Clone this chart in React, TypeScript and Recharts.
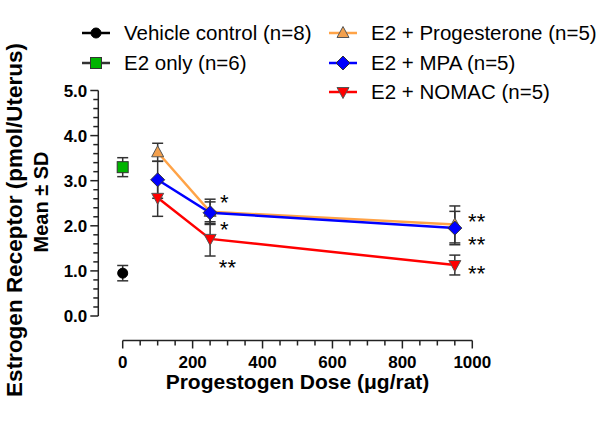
import { ComposedChart, ErrorBar, Legend, Line, ReferenceDot, XAxis, YAxis } from "recharts";

// doses in µg/rat, values in pmol/uterus (mean ± SD)
const controlDose = [0];
const vehicleMean = [0.95];
const vehicleSd = [0.17];
const e2OnlyMean = [3.3];
const e2OnlySd = [0.21];

const progestogenDoses = [100, 250, 950];
const progesteroneMean = [3.63, 2.31, 2.03];
const progesteroneSd = [0.2, 0.28, 0.41];
const mpaMean = [3.02, 2.29, 1.95];
const mpaSd = [0.41, 0.24, 0.37];
const nomacMean = [2.62, 1.71, 1.13];
const nomacSd = [0.41, 0.38, 0.22];

const xTicks = [0, 50, 100, 150, 200, 250, 300, 350, 400, 450, 500, 550, 600, 650, 700, 750, 800, 850, 900, 950, 1000];
const yTicks = [0, 0.2, 0.4, 0.6, 0.8, 1, 1.2, 1.4, 1.6, 1.8, 2, 2.2, 2.4, 2.6, 2.8, 3, 3.2, 3.4, 3.6, 3.8, 4, 4.2, 4.4, 4.6, 4.8, 5];

// significance marks, anchored at text baseline-left
const sigDoses = [278, 278, 275, 988, 988, 988];
const sigValues = [2.35, 1.75, 0.91, 1.93, 1.42, 0.77];
const sigTexts = ["*", "*", "**", "**", "**", "**"];

const toRows = (doses: number[], mean: number[], sd: number[]) =>
  doses.map((dose, i) => ({ dose, mean: mean[i], sd: sd[i] }));

const AXIS = "#222";
const FONT = "'Liberation Sans', Arial, sans-serif";
const X_GAP = 24.5;
const Y_GAP = 24.4;

type Shape = "circle" | "square" | "triUp" | "diamond" | "triDown";

const series = [
  { name: "Vehicle control (n=8)", data: toRows(controlDose, vehicleMean, vehicleSd), line: "#000", fill: "#000", edge: "#000", shape: "circle" as Shape },
  { name: "E2 only (n=6)", data: toRows(controlDose, e2OnlyMean, e2OnlySd), line: "#333", fill: "#00b400", edge: "#333", shape: "square" as Shape },
  { name: "E2 + Progesterone (n=5)", data: toRows(progestogenDoses, progesteroneMean, progesteroneSd), line: "#ffa347", fill: "#f2a04e", edge: "#555", shape: "triUp" as Shape },
  { name: "E2 + MPA (n=5)", data: toRows(progestogenDoses, mpaMean, mpaSd), line: "#0000ff", fill: "#0000ff", edge: "#333", shape: "diamond" as Shape },
  { name: "E2 + NOMAC (n=5)", data: toRows(progestogenDoses, nomacMean, nomacSd), line: "#ff0000", fill: "#ff0000", edge: "#555", shape: "triDown" as Shape },
];

function Marker({ shape, cx, cy, fill, edge }: { shape: Shape; cx: number; cy: number; fill: string; edge: string }) {
  if (shape === "circle") return <circle cx={cx} cy={cy} r={5} fill={fill} stroke={edge} />;
  if (shape === "square") return <rect x={cx - 5.5} y={cy - 5.5} width={11} height={11} fill={fill} stroke={edge} strokeWidth={1} />;
  if (shape === "triUp")
    return <polygon points={`${cx},${cy - 6.5} ${cx + 6},${cy + 4.5} ${cx - 6},${cy + 4.5}`} fill={fill} stroke={edge} strokeWidth={1} />;
  if (shape === "triDown")
    return <polygon points={`${cx - 6},${cy - 4.5} ${cx + 6},${cy - 4.5} ${cx},${cy + 6.5}`} fill={fill} stroke={edge} strokeWidth={1} />;
  return <polygon points={`${cx},${cy - 7} ${cx + 7},${cy} ${cx},${cy + 7} ${cx - 7},${cy}`} fill={fill} stroke={edge} strokeWidth={1} />;
}

function XTick({ x, y, payload }: any) {
  const v = payload.value;
  const major = v % 200 === 0;
  const ay = y + X_GAP;
  return (
    <g>
      <line x1={x} x2={x} y1={ay} y2={ay + (major ? 8 : 5)} stroke={AXIS} strokeWidth={1.5} />
      {major && (
        <text x={x} y={ay + 27} textAnchor="middle" fontSize={17} fontWeight="bold" fill="#000" fontFamily={FONT}>
          {v}
        </text>
      )}
    </g>
  );
}

function YTick({ x, y, payload }: any) {
  const v = payload.value;
  const major = Math.abs(v - Math.round(v)) < 1e-6;
  const ax = x - Y_GAP;
  return (
    <g>
      <line x1={ax - (major ? 8 : 5)} x2={ax} y1={y} y2={y} stroke={AXIS} strokeWidth={1.5} />
      {major && (
        <text x={ax - 11} y={y + 6} textAnchor="end" fontSize={17} fontWeight="bold" fill="#000" fontFamily={FONT}>
          {v.toFixed(1)}
        </text>
      )}
    </g>
  );
}

function LegendBox() {
  const cols = [82, 329];
  const rows = [33, 63, 92];
  return (
    <div style={{ position: "relative", width: 600, height: 110, fontFamily: FONT }}>
      {series.map((s, i) => {
        const col = i < 2 ? 0 : 1;
        const row = i < 2 ? i : i - 2;
        return (
          <div key={s.name} style={{ position: "absolute", left: cols[col], top: rows[row] - 12, height: 24, display: "flex", alignItems: "center", whiteSpace: "nowrap" }}>
            <svg width={28} height={18}>
              <line x1={0} x2={28} y1={9} y2={9} stroke={s.line} strokeWidth={2.5} />
              <Marker shape={s.shape} cx={14} cy={9} fill={s.fill} edge={s.edge} />
            </svg>
            <span style={{ marginLeft: 14, fontSize: 20.5, color: "#000", lineHeight: "24px" }}>{s.name}</span>
          </div>
        );
      })}
    </div>
  );
}

export default function App() {
  return (
    <div style={{ position: "absolute", left: 0, top: 0, width: 600, height: 424, background: "#fff", fontFamily: FONT }}>
      <ComposedChart width={600} height={424} margin={{ top: 90.5, right: 127.7, left: 82.7, bottom: 68 }}>
        <XAxis
          dataKey="dose"
          type="number"
          domain={[0, 1000]}
          ticks={xTicks}
          interval={0}
          height={40}
          tickSize={0}
          tickMargin={0}
          tickLine={false}
          tick={<XTick />}
          axisLine={{ stroke: AXIS, strokeWidth: 1.5, transform: `translate(0,${X_GAP})` }}
          allowDuplicatedCategory={false}
        />
        <YAxis
          type="number"
          domain={[0, 5]}
          ticks={yTicks}
          interval={0}
          width={40}
          tickSize={0}
          tickMargin={0}
          tickLine={false}
          tick={<YTick />}
          axisLine={{ stroke: AXIS, strokeWidth: 1.5, transform: `translate(-${Y_GAP},0)` }}
        />
        <Legend layout="horizontal" verticalAlign="middle" align="center" wrapperStyle={{ top: 0, left: 0, width: 600, height: 110 }} content={() => <LegendBox />} />
        {series.map((s) => (
          <Line
            key={s.name}
            data={s.data}
            dataKey="mean"
            name={s.name}
            stroke={s.line}
            strokeWidth={2.5}
            isAnimationActive={false}
            activeDot={false}
            dot={(p: any) => <Marker key={`${s.name}-${p.index}`} shape={s.shape} cx={p.cx} cy={p.cy} fill={s.fill} edge={s.edge} />}
          >
            <ErrorBar dataKey="sd" width={5.5} stroke="#333" strokeWidth={1.5} direction="y" isAnimationActive={false} />
          </Line>
        ))}
        {sigTexts.map((t, i) => (
          <ReferenceDot
            key={`sig-${i}`}
            x={sigDoses[i]}
            y={sigValues[i]}
            r={0}
            ifOverflow="visible"
            shape={(p: any) => (
              <text x={p.cx} y={p.cy} fontSize={22} fill="#000" fontFamily={FONT}>
                {t}
              </text>
            )}
          />
        ))}
        <text x={297.5} y={389} textAnchor="middle" fontSize={21} fontWeight="bold" fill="#000" fontFamily={FONT}>
          Progestogen Dose (μg/rat)
        </text>
        <text x={22} y={220} transform="rotate(-90, 22, 220)" textAnchor="middle" fontSize={22.5} fontWeight="bold" fill="#000" fontFamily={FONT}>
          Estrogen Receptor (pmol/Uterus)
        </text>
        <text x={48} y={202} transform="rotate(-90, 48, 202)" textAnchor="middle" fontSize={20} fontWeight="bold" fill="#000" fontFamily={FONT}>
          Mean ± SD
        </text>
      </ComposedChart>
    </div>
  );
}
